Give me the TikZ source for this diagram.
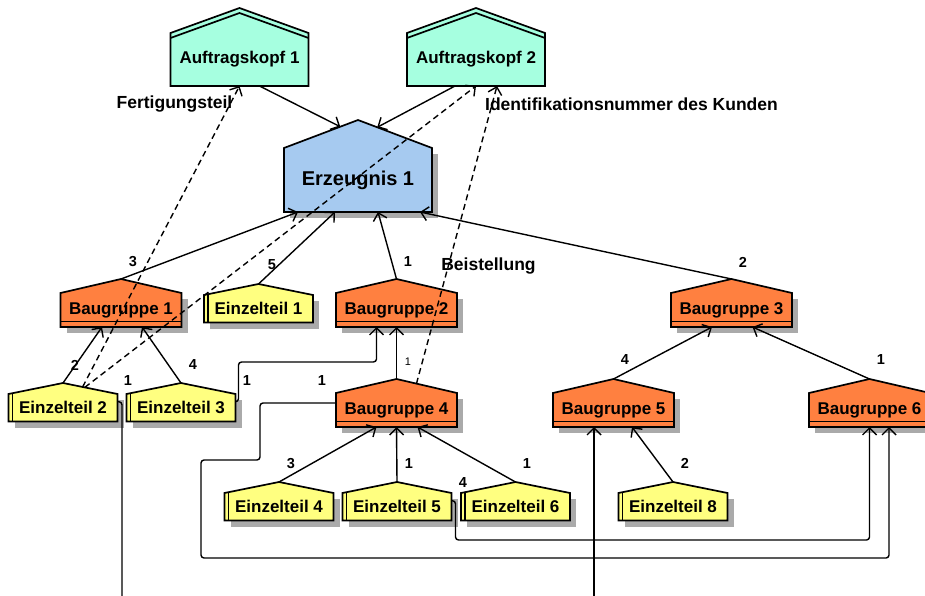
\documentclass[tikz,border=0pt]{standalone}
\usepackage{fontspec}
\setmainfont{Liberation Sans}
\usetikzlibrary{arrows.meta,calc}

\definecolor{kopffarbe}{RGB}{166,255,224}
\definecolor{erzfarbe}{RGB}{166,202,240}
\definecolor{bgfarbe}{RGB}{255,128,64}
\definecolor{etfarbe}{RGB}{255,255,128}
\definecolor{schatten}{RGB}{170,170,170}

\tikzset{
  rand/.style={line width=1.7pt,line join=miter},
  txt/.style={font=\fontsize{17}{20}\selectfont\bfseries,inner sep=0pt,outer sep=0pt},
  lbl/.style={font=\fontsize{14.5}{17}\selectfont\bfseries,inner sep=0pt},
  rolle/.style={font=\fontsize{17.5}{20}\selectfont\bfseries,inner sep=0pt},
  linie/.style={line width=1.4pt},
  verb/.style={linie,-{Straight Barb[length=7pt,width=14pt]}},
  bez/.style={verb,dash pattern=on 6pt off 4pt},
  rund/.style={verb,rounded corners=3pt}
}

% name, farbe, x, traufe, halbe breite, hoehe, dach, text
\newcommand{\haus}[8]{%
  \filldraw[rand,fill=#2] (#3-#5,#4+#6) -- (#3-#5,#4) -- (#3,#4-#7) -- (#3+#5,#4) -- (#3+#5,#4+#6) -- cycle;
  \node[txt,minimum width={2*#5pt},minimum height={#6pt}] (#1) at (#3,#4+#6/2) {#8};
  \coordinate (#1-top) at (#3,#4-#7);
}
\newcommand{\bgruppe}[4]{%
  \fill[schatten] (#2-54.5,#3+6) rectangle (#2+66.5,#3+40);
  \haus{#1}{bgfarbe}{#2}{#3}{60.5}{34}{14}{#4}
  \draw[rand] ([yshift=5.5pt]#1.south west) -- ([yshift=5.5pt]#1.south east);
}
\newcommand{\eteil}[4]{%
  \fill[schatten] (#2-48.5,#3+6) rectangle (#2+60.5,#3+33.5);
  \haus{#1}{etfarbe}{#2}{#3}{54.5}{27.5}{11}{#4}
  \draw[rand] ([xshift=4pt]#1.north west) -- ([xshift=4pt]#1.south west);
}
\newcommand{\akopf}[3]{%
  \haus{#1}{kopffarbe}{#2}{33}{69}{53}{25}{#3}
  \draw[rand] (#2-69,38) -- (#2,13) -- (#2+69,38);
}

\begin{document}
\begin{tikzpicture}[x=1pt,y=-1pt]
  \clip (0,0) rectangle (925,596);

  % auftragskoepfe und erzeugnis
  \akopf{ak1}{239.5}{Auftragskopf 1}
  \akopf{ak2}{476}{Auftragskopf 2}
  \fill[schatten] (290,154) rectangle (438,218);
  \haus{erz}{erzfarbe}{358}{148}{74}{64}{28}{\fontsize{20}{24}\selectfont Erzeugnis 1}

  % baugruppen
  \bgruppe{bg1}{121}{293}{Baugruppe 1}
  \bgruppe{bg2}{396.5}{293}{Baugruppe 2}
  \bgruppe{bg3}{731.5}{293}{Baugruppe 3}
  \bgruppe{bg4}{396.5}{393}{Baugruppe 4}
  \bgruppe{bg5}{613.5}{393}{Baugruppe 5}
  \bgruppe{bg6}{869.5}{393}{Baugruppe 6}

  % einzelteile
  \eteil{et1}{258.5}{295}{Einzelteil 1}
  \eteil{et2}{63}{394}{Einzelteil 2}
  \eteil{et3}{181}{394}{Einzelteil 3}
  \eteil{et4}{279}{493}{Einzelteil 4}
  \eteil{et5}{397}{493}{Einzelteil 5}
  \eteil{et6}{515.5}{493}{Einzelteil 6}
  \eteil{et8}{673}{493}{Einzelteil 8}

  \coordinate (unten1) at (122,620);
  \coordinate (unten2) at (594,620);

  % struktur
  \draw[verb] ([xshift=20pt]ak1.south) -- ($(erz-top)!0.24!(erz.north west)$);
  \draw[verb] ([xshift=-21pt]ak2.south) -- ($(erz-top)!0.26!(erz.north east)$);
  \draw[verb] (bg1-top) -- ([xshift=-60pt]erz.south);
  \draw[verb] (et1-top) -- ([xshift=-23pt]erz.south);
  \draw[verb] (bg2-top) -- ([xshift=20pt]erz.south);
  \draw[verb] (bg3-top) -- ([xshift=62pt]erz.south);
  \draw[verb] (et2-top) -- ([xshift=-19pt]bg1.south);
  \draw[verb] (et3-top) -- ([xshift=21pt]bg1.south);
  \draw[verb] (bg4-top) -- (bg2.south);
  \draw[verb] (et4-top) -- ([xshift=-20pt]bg4.south);
  \draw[verb] (et5-top) -- (bg4.south);
  \draw[verb] (et6-top) -- ([xshift=21pt]bg4.south);
  \draw[verb] (bg5-top) -- ([xshift=-19.5pt]bg3.south);
  \draw[verb] (bg6-top) -- ([xshift=21pt]bg3.south);
  \draw[verb] (et8-top) -- ([xshift=18.5pt]bg5.south);

  \draw[linie,rounded corners=3pt] ([yshift=6pt]et2.east) -| (unten1);
  \draw[rund] ([yshift=6pt]et3.east) -- ++(3,0) |- ([xshift=-20pt,yshift=-35pt]bg2.south) -- ([xshift=-20pt]bg2.south);
  \draw[rund] ([yshift=7pt]bg4.west) -- ++(-76,0) -- ++(0,57) -- ++(-59,0) |- ([xshift=19.5pt,yshift=-131pt]bg6.south) -- ([xshift=19.5pt]bg6.south);
  \draw[rund] ([yshift=6pt]et5.east) -- ++(4,0) |- ([yshift=-113pt]bg6.south) -- (bg6.south);
  \draw[verb] (unten2) -- (unten2 |- bg5.south);

  % bezuege
  \draw[bez] ($(et2-top)!0.36!(et2.north east)$) -- (ak1.south);
  \draw[bez] ($(et2-top)!0.40!(et2.north east)$) -- (ak2.south);
  \draw[bez] ($(bg4-top)!0.33!(bg4.north east)$) -- ([xshift=21pt]ak2.south);

  \node[rolle] (r1) at (174.5,104) {Fertigungsteil};
  \node[rolle] (r2) at (631.5,104) {Identifikationsnummer des Kunden};
  \node[rolle] (r3) at (488.5,266) {Beistellung};

  % mengen
  \node[lbl] (m1) at (133,262) {3};
  \node[lbl] (m2) at (272,265) {5};
  \node[lbl] (m3) at (408,262) {1};
  \node[lbl] (m4) at (743,262) {2};
  \node[lbl] (m5) at (75,365) {2};
  \node[lbl] (m6) at (193,365) {4};
  \node[lbl] (m7) at (128,381) {1};
  \node[lbl] (m8) at (247,381) {1};
  \node[lbl] (m9) at (322,381) {1};
  \node[font=\fontsize{11}{13}\selectfont,inner sep=0pt] (m10) at (408,362) {1};
  \node[lbl] (m11) at (625,360) {4};
  \node[lbl] (m12) at (881,360) {1};
  \node[lbl] (m13) at (291,464) {3};
  \node[lbl] (m14) at (409,464) {1};
  \node[lbl] (m15) at (463,483) {4};
  \node[lbl] (m16) at (527,464) {1};
  \node[lbl] (m17) at (685,463) {2};
\end{tikzpicture}
\end{document}
